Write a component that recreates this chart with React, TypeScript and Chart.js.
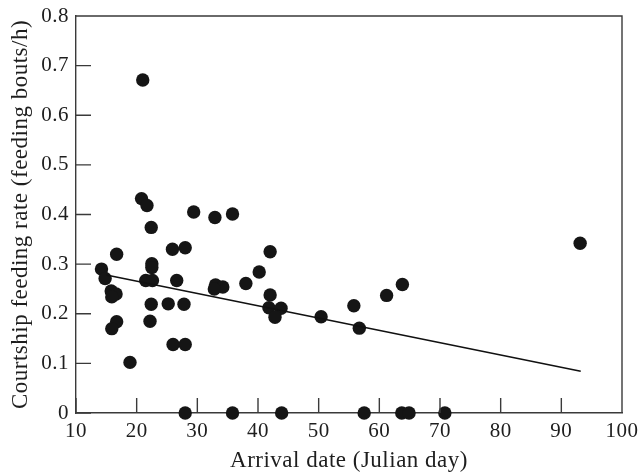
import React, { useEffect, useRef } from "react";
import { Chart, registerables } from "chart.js";

Chart.register(...registerables);

// Arrival date (Julian day) for each male
const arrivalDays: number[] = [
  21.0, 20.8, 21.7, 22.4, 29.4, 32.9, 35.8, 14.2, 14.8, 16.7,
  15.8, 16.6, 15.9, 16.7, 15.9, 18.9, 22.5, 22.5, 21.5, 22.6,
  22.4, 22.2, 25.2, 25.9, 28.0, 26.6, 27.8, 26.0, 28.0, 28.0,
  35.8, 43.9, 33.0, 34.2, 32.8, 38.0, 40.2, 42.0, 42.0, 41.8,
  43.8, 42.8, 50.4, 55.8, 56.7, 61.2, 63.8, 93.1, 57.5, 63.7,
  64.9, 70.8,
];
// Courtship feeding rate (feeding bouts/h)
const feedingRates: number[] = [
  0.671, 0.432, 0.418, 0.374, 0.405, 0.394, 0.401, 0.290, 0.271, 0.320,
  0.246, 0.240, 0.234, 0.184, 0.170, 0.102, 0.301, 0.293, 0.267, 0.267,
  0.219, 0.185, 0.220, 0.330, 0.333, 0.267, 0.219, 0.138, 0.138, 0,
  0, 0, 0.258, 0.254, 0.250, 0.261, 0.284, 0.325, 0.238, 0.212,
  0.211, 0.193, 0.194, 0.216, 0.171, 0.237, 0.259, 0.342, 0, 0,
  0, 0,
];
// Regression line end points
const fitX: number[] = [15.0, 93.2];
const fitY: number[] = [0.278, 0.084];

const xTicks: number[] = [10, 20, 30, 40, 50, 60, 70, 80, 90, 100];
const yTicks: number[] = [0, 0.1, 0.2, 0.3, 0.4, 0.5, 0.6, 0.7, 0.8];

const FONT = "'Liberation Serif', 'Times New Roman', serif";
const AXIS_COLOR = "#3a3a3a";
const TEXT_COLOR = "#1e1e1e";

const spacing = {
  id: "spacing",
  beforeLayout(chart: any) {
    (chart.ctx as any).letterSpacing = "0.5px";
  },
  beforeDraw(chart: any) {
    (chart.ctx as any).letterSpacing = "0.5px";
  },
};

const frameAndTicks = {
  id: "frameAndTicks",
  afterDraw(chart: any) {
    const { ctx, chartArea, scales } = chart;
    const len = 15;
    ctx.save();
    ctx.strokeStyle = AXIS_COLOR;
    ctx.lineWidth = 1.4;
    ctx.beginPath();
    ctx.moveTo(chartArea.left, chartArea.top);
    ctx.lineTo(chartArea.right, chartArea.top);
    ctx.lineTo(chartArea.right, chartArea.bottom);
    for (const v of xTicks) {
      const px = scales.x.getPixelForValue(v);
      ctx.moveTo(px, chartArea.bottom);
      ctx.lineTo(px, chartArea.bottom - len);
    }
    for (const v of yTicks) {
      const py = scales.y.getPixelForValue(v);
      ctx.moveTo(chartArea.left, py);
      ctx.lineTo(chartArea.left + len, py);
    }
    ctx.stroke();
    ctx.restore();
  },
};

export default function App() {
  const canvasRef = useRef<HTMLCanvasElement | null>(null);

  useEffect(() => {
    if (!canvasRef.current) return;
    const points = arrivalDays.map((x, i) => ({ x, y: feedingRates[i] }));
    const fit = fitX.map((x, i) => ({ x, y: fitY[i] }));
    const chart = new Chart(canvasRef.current, {
      type: "scatter",
      data: {
        datasets: [
          {
            type: "line",
            data: fit,
            borderColor: "#111",
            borderWidth: 1.6,
            pointRadius: 0,
            fill: false,
            clip: false as any,
          },
          {
            data: points,
            backgroundColor: "#151515",
            borderColor: "#151515",
            borderWidth: 0,
            pointRadius: 6.7,
            clip: false as any,
          },
        ],
      },
      options: {
        responsive: false,
        animation: false,
        events: [],
        layout: { padding: { left: 0, top: 16, right: 18, bottom: 0 } },
        plugins: {
          legend: { display: false },
          tooltip: { enabled: false },
        },
        scales: {
          x: {
            type: "linear",
            min: 10,
            max: 100,
            afterFit: (s: any) => {
              s.height = 62;
              s.paddingLeft = 0;
              s.paddingRight = 0;
            },
            afterBuildTicks: (s: any) => {
              s.ticks = xTicks.map((v) => ({ value: v }));
            },
            grid: { display: false, drawTicks: false },
            border: { display: true, color: AXIS_COLOR, width: 1.4 },
            ticks: {
              padding: 6,
              color: TEXT_COLOR,
              font: { family: FONT, size: 21 },
              maxRotation: 0,
              autoSkip: false,
              callback: (v: any) => String(v),
            },
            title: {
              display: true,
              text: "Arrival date (Julian day)",
              color: TEXT_COLOR,
              font: { family: FONT, size: 23 },
              padding: { top: 0, bottom: 0 },
            },
          },
          y: {
            type: "linear",
            min: 0,
            max: 0.8,
            afterFit: (s: any) => {
              s.width = 76;
              s.paddingTop = 0;
              s.paddingBottom = 0;
            },
            afterBuildTicks: (s: any) => {
              s.ticks = yTicks.map((v) => ({ value: v }));
            },
            grid: { display: false, drawTicks: false },
            border: { display: true, color: AXIS_COLOR, width: 1.4 },
            ticks: {
              padding: 7,
              color: TEXT_COLOR,
              font: { family: FONT, size: 21 },
              autoSkip: false,
              callback: (v: any) => (v === 0 ? "0" : Number(v).toFixed(1)),
            },
            title: {
              display: true,
              text: "Courtship feeding rate (feeding bouts/h)",
              color: TEXT_COLOR,
              font: { family: FONT, size: 23 },
              padding: { top: 7, bottom: 0 },
            },
          },
        },
      },
      plugins: [spacing, frameAndTicks],
    } as any);
    return () => chart.destroy();
  }, []);

  return (
    <div style={{ position: "fixed", left: 0, top: 0, width: 640, height: 475, background: "#fff" }}>
      <canvas ref={canvasRef} width={640} height={475} />
    </div>
  );
}
